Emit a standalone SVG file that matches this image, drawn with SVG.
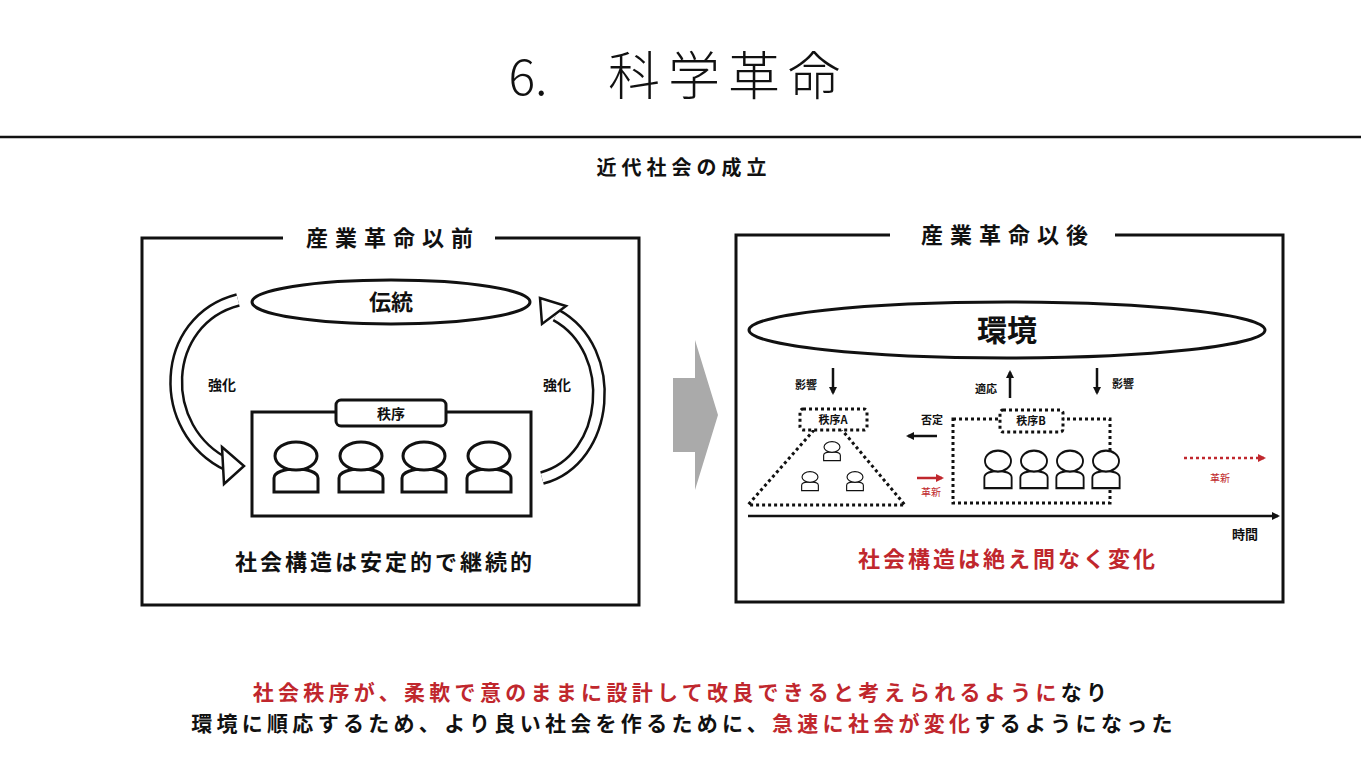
<svg xmlns="http://www.w3.org/2000/svg" width="1361" height="765" viewBox="0 0 1361 765">
<style>
text{font-family:"Noto Sans CJK JP","Liberation Sans",sans-serif;fill:#111;text-anchor:middle}
.b{font-weight:bold}.r{fill:#c0272d}
.s{fill:none;stroke:#111;stroke-width:3}
.d{fill:none;stroke:#111;stroke-width:3;stroke-dasharray:3 3}
.dw{fill:#fff;stroke:#111;stroke-width:3;stroke-dasharray:3 3}
.p{fill:#fff;stroke:#111;stroke-width:3}
</style>
<defs>
<marker id="ah" markerWidth="8" markerHeight="8" refX="6" refY="4" orient="auto" markerUnits="userSpaceOnUse"><path d="M0,0L8,4L0,8z" fill="#111"/></marker>
<marker id="ar" markerWidth="8" markerHeight="8" refX="6" refY="4" orient="auto" markerUnits="userSpaceOnUse"><path d="M0,0L8,4L0,8z" fill="#c0272d"/></marker>
<g id="person"><path class="p" d="M-22,36 L-22,22 C-22,10 22,10 22,22 L22,36 Z"/><ellipse class="p" cx="0" cy="0" rx="21" ry="14"/></g>
</defs>
<rect width="1361" height="765" fill="#fff"/>
<text x="528" y="95" font-size="50" font-weight="300">6.</text>
<text x="608" y="95" font-size="52" font-weight="300" letter-spacing="8" style="text-anchor:start">科学革命</text>
<line x1="0" y1="137" x2="1361" y2="137" stroke="#111" stroke-width="2.5"/>
<text x="684" y="175" font-size="20" letter-spacing="5" class="b">近代社会の成立</text>

<g id="left-panel">
<path class="s" d="M283,238 H142 V605 H639 V238 H495"/>
<text x="393" y="246" font-size="22" letter-spacing="7" class="b">産業革命以前</text>
</g>
<g id="tradition"><ellipse class="s" cx="391" cy="302" rx="139" ry="22"/><text x="391" y="310" font-size="22" class="b">伝統</text></g>
<g id="order">
<rect class="s" x="252" y="412" width="279" height="104"/>
<rect class="p" x="336" y="400" width="110" height="26" rx="5"/>
<text x="391" y="419" font-size="14" class="b">秩序</text>
<use href="#person" x="296" y="456"/><use href="#person" x="361" y="456"/><use href="#person" x="424" y="456"/><use href="#person" x="489" y="456"/>
</g>
<g id="loop-arrows">
<path d="M238,300 C160,320 155,430 228,465" fill="none" stroke="#111" stroke-width="14"/>
<path d="M238,300 C160,320 155,430 228,465" fill="none" stroke="#fff" stroke-width="9"/>
<polygon points="222,447 244,466 224,484" fill="#fff" stroke="#111" stroke-width="2.5"/>
<path d="M542,478 C610,460 620,350 556,315" fill="none" stroke="#111" stroke-width="14"/>
<path d="M542,478 C610,460 620,350 556,315" fill="none" stroke="#fff" stroke-width="9"/>
<polygon points="540,298 542,324 566,306" fill="#fff" stroke="#111" stroke-width="2.5"/>
<text x="222" y="390" font-size="14" class="b">強化</text>
<text x="557" y="390" font-size="14" class="b">強化</text>
</g>
<text x="385" y="570" font-size="22" letter-spacing="3" class="b">社会構造は安定的で継続的</text>

<polygon points="673,378 695,378 695,340 718,415 695,490 695,452 673,452" fill="#aaa"/>

<g id="right-panel">
<path class="s" d="M890,235 H736 V602 H1283 V235 H1115"/>
<text x="1008" y="243" font-size="22" letter-spacing="7" class="b">産業革命以後</text>
</g>
<g id="environment"><ellipse class="s" cx="1007" cy="330" rx="258" ry="28"/><text x="1007" y="341" font-size="30" class="b">環境</text></g>
<g id="connectors">
<line x1="833" y1="368" x2="833" y2="393" stroke="#111" stroke-width="2.5" marker-end="url(#ah)"/>
<line x1="1010" y1="398" x2="1010" y2="372" stroke="#111" stroke-width="2.5" marker-end="url(#ah)"/>
<line x1="1097" y1="368" x2="1097" y2="393" stroke="#111" stroke-width="2.5" marker-end="url(#ah)"/>
<line x1="937" y1="436" x2="908" y2="436" stroke="#111" stroke-width="2.5" marker-end="url(#ah)"/>
<line x1="917" y1="478" x2="942" y2="478" stroke="#c0272d" stroke-width="2.5" marker-end="url(#ar)"/>
<line x1="1184" y1="458" x2="1264" y2="458" stroke="#c0272d" stroke-width="2.5" stroke-dasharray="3 3" marker-end="url(#ar)"/>
<line x1="748" y1="516" x2="1278" y2="516" stroke="#111" stroke-width="2.5" marker-end="url(#ah)"/>
</g>
<text x="806" y="389" font-size="11" class="b">影響</text>
<text x="986" y="393" font-size="11" class="b">適応</text>
<text x="1123" y="388" font-size="11" class="b">影響</text>
<text x="932" y="424" font-size="11" class="b">否定</text>
<text x="931" y="496" font-size="10" class="r">革新</text>
<text x="1220" y="482" font-size="10" class="r">革新</text>
<text x="1245" y="539" font-size="13" class="b">時間</text>
<g id="order-a">
<path class="d" d="M814,430 L748,505 H905 L842,430"/>
<rect class="dw" x="800" y="409" width="67" height="21" rx="3"/>
<text x="833" y="424" font-size="11" class="b">秩序A</text>
<g transform="translate(832,447) scale(0.38)"><use href="#person"/></g>
<g transform="translate(810,477) scale(0.38)"><use href="#person"/></g>
<g transform="translate(855,477) scale(0.38)"><use href="#person"/></g>
</g>
<g id="order-b">
<rect class="d" x="953" y="419" width="157" height="84"/>
<rect class="dw" x="1000" y="410" width="63" height="22" rx="3"/>
<text x="1031" y="425" font-size="11" class="b">秩序B</text>
<g transform="translate(998,461) scale(0.62,0.75)"><use href="#person"/></g>
<g transform="translate(1034,461) scale(0.62,0.75)"><use href="#person"/></g>
<g transform="translate(1070,461) scale(0.62,0.75)"><use href="#person"/></g>
<g transform="translate(1106,461) scale(0.62,0.75)"><use href="#person"/></g>
</g>
<text x="1008" y="567" font-size="22" letter-spacing="3" class="b r">社会構造は絶え間なく変化</text>

<text x="682" y="700" font-size="21" letter-spacing="4.3" class="b"><tspan class="r">社会秩序が、柔軟で意のままに設計して改良できると考えられるように</tspan>なり</text>
<text x="684" y="731" font-size="21" letter-spacing="4.3" class="b">環境に順応するため、より良い社会を作るために、<tspan class="r">急速に社会が変化</tspan>するようになった</text>
</svg>
